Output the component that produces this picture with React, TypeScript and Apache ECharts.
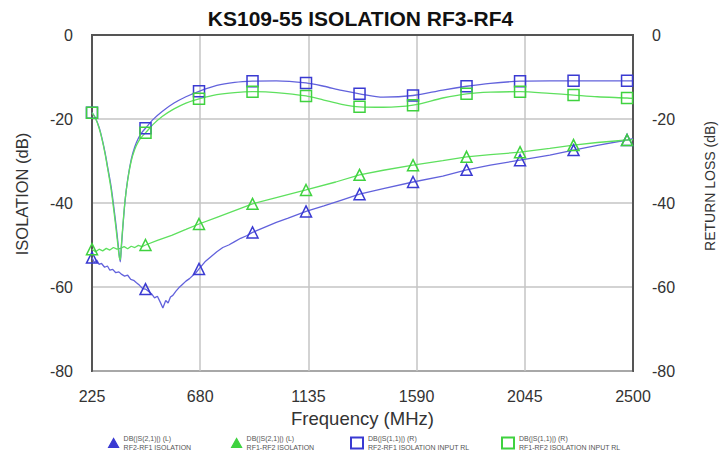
import React, { useEffect, useRef } from "react";
import * as echarts from "echarts";

const xTicks = [225, 680, 1135, 1590, 2045, 2500];
const yTicks = [0, -20, -40, -60, -80];
const markerFreqs = [225, 450, 675, 900, 1125, 1350, 1575, 1800, 2025, 2250, 2475];

const isoBlueFreq = [225, 235, 245, 255, 265, 278, 290, 300, 312, 325, 338, 350, 362, 375, 388, 400, 412, 425, 438, 450, 462, 475, 488, 500, 512, 523, 535, 545, 555, 565, 578, 590, 605, 620, 635, 650, 662, 675, 700, 725, 750, 775, 800, 825, 850, 875, 900, 950, 1000, 1050, 1125, 1200, 1275, 1350, 1450, 1575, 1700, 1800, 1900, 2025, 2150, 2250, 2350, 2475, 2500];
const isoBlueDb = [-53.0, -54.2, -53.6, -54.6, -54.4, -55.3, -55.0, -56.0, -55.8, -56.6, -56.4, -57.0, -57.4, -57.2, -58.2, -58.4, -59.0, -59.6, -60.4, -60.5, -61.0, -61.6, -62.6, -62.2, -63.6, -65.0, -63.2, -63.8, -62.4, -62.0, -61.0, -60.2, -59.4, -58.6, -58.0, -57.2, -56.6, -55.7, -54.0, -52.8, -51.6, -50.6, -50.0, -49.2, -48.4, -47.8, -47.0, -45.8, -44.6, -43.6, -42.0, -40.7, -39.3, -37.9, -36.6, -35.0, -33.6, -32.1, -31.0, -29.8, -28.6, -27.4, -26.3, -25.0, -24.7];

const isoGreenFreq = [225, 240, 255, 270, 285, 300, 315, 330, 345, 360, 375, 390, 405, 420, 435, 450, 500, 560, 620, 675, 750, 825, 900, 1000, 1125, 1250, 1350, 1450, 1575, 1700, 1800, 1900, 2025, 2150, 2250, 2350, 2475, 2500];
const isoGreenDb = [-51.0, -51.6, -51.0, -51.4, -50.8, -51.2, -50.6, -51.0, -50.8, -50.4, -50.9, -50.3, -50.6, -50.1, -50.4, -50.0, -48.9, -47.7, -46.3, -45.0, -43.4, -41.8, -40.2, -38.7, -36.9, -35.0, -33.3, -32.2, -31.0, -29.9, -29.0, -28.5, -27.9, -27.0, -26.2, -25.6, -25.0, -24.9];

const rlBlueFreq = [225, 240, 255, 267, 280, 292, 305, 315, 325, 333, 340, 344, 348, 355, 364, 375, 390, 405, 420, 435, 450, 480, 520, 570, 620, 675, 750, 825, 900, 1000, 1125, 1200, 1275, 1350, 1450, 1575, 1700, 1800, 1900, 2025, 2150, 2250, 2350, 2475, 2500];
const rlBlueDb = [-18.5, -19.8, -22.0, -24.6, -28.0, -31.8, -36.0, -40.2, -44.8, -48.8, -52.6, -54.0, -51.0, -45.6, -39.5, -34.4, -29.6, -26.6, -24.6, -23.2, -22.2, -20.2, -18.2, -16.2, -14.7, -13.4, -12.0, -11.3, -11.0, -10.9, -11.4, -12.2, -13.2, -14.0, -14.8, -14.4, -13.1, -12.2, -11.5, -11.0, -10.9, -10.9, -10.9, -10.9, -10.9];

const rlGreenFreq = [225, 240, 255, 267, 280, 292, 305, 315, 325, 333, 340, 344, 348, 355, 364, 375, 390, 405, 420, 435, 450, 480, 520, 570, 620, 675, 750, 825, 900, 1000, 1125, 1200, 1275, 1350, 1450, 1575, 1700, 1800, 1900, 2025, 2150, 2250, 2350, 2475, 2500];
const rlGreenDb = [-18.5, -19.9, -22.2, -24.8, -28.3, -32.2, -36.6, -41.0, -45.6, -49.6, -53.0, -53.5, -50.4, -45.2, -39.4, -34.6, -30.0, -27.2, -25.4, -24.2, -23.3, -21.4, -19.4, -17.6, -16.2, -15.2, -14.2, -13.7, -13.5, -13.7, -14.5, -15.5, -16.5, -17.1, -17.2, -16.7, -15.0, -14.0, -13.6, -13.5, -13.9, -14.3, -14.7, -15.0, -15.1];

const seriesNames = [
  "RF2-RF1 ISOLATION",
  "RF1-RF2 ISOLATION",
  "RF2-RF1 ISOLATION INPUT RL",
  "RF1-RF2 ISOLATION INPUT RL",
];
const legendHeads = ["DB(|S(2,1)|) (L)", "DB(|S(2,1)|) (L)", "DB(|S(1,1)|) (R)", "DB(|S(1,1)|) (R)"];

const BLUE_LINE = "#6262dc";
const BLUE_MARK = "#3a3ad2";
const GREEN_LINE = "#5ee05e";
const GREEN_MARK = "#3fd23f";
const FONT = "Liberation Sans, Arial, sans-serif";

function buildData(freqs: number[], vals: number[]) {
  return freqs.map((f, i) =>
    markerFreqs.includes(f) ? { value: [f, vals[i]] } : { value: [f, vals[i]], symbol: "none" }
  );
}

export default function App() {
  const ref = useRef<HTMLDivElement>(null);
  useEffect(() => {
    if (!ref.current) return;
    const chart = echarts.init(ref.current, undefined, { renderer: "svg" });
    const mkSeries = (
      name: string,
      freqs: number[],
      vals: number[],
      lineColor: string,
      markColor: string,
      symbol: string,
      yAxisIndex: number,
      smooth: boolean | number
    ) => ({
      name,
      type: "line",
      yAxisIndex,
      data: buildData(freqs, vals),
      symbol,
      symbolSize: 11,
      showAllSymbol: true,
      smooth,
      lineStyle: { color: lineColor, width: 1.3 },
      itemStyle: { color: "rgba(255,255,255,0)", borderColor: markColor, borderWidth: 1.5 },
      emphasis: { disabled: true },
      z: yAxisIndex === 1 ? 3 : 2,
    });

    const legendLefts = [108, 231, 350, 501];
    const legendIcons = ["triangle", "triangle", "emptyRect", "emptyRect"];
    const legendColors = [BLUE_MARK, GREEN_MARK, BLUE_MARK, GREEN_MARK];
    const legendSizes = [10, 10, 12, 12];

    const yAxisCommon = {
      type: "value",
      min: yTicks[yTicks.length - 1],
      max: yTicks[0],
      interval: yTicks[0] - yTicks[1],
      axisLabel: { fontFamily: FONT, fontSize: 16, color: "#333", margin: 19 },
      axisTick: { show: false },
      axisLine: { show: true, lineStyle: { color: "#555", width: 2 } },
    };

    chart.setOption({
      animation: false,
      backgroundColor: "#fff",
      title: {
        text: "KS109-55 ISOLATION RF3-RF4",
        left: "center",
        top: 3,
        textStyle: { fontFamily: FONT, fontSize: 21, fontWeight: "bold", color: "#111" },
      },
      grid: {
        left: 92,
        right: 88,
        top: 35,
        bottom: 84,
        show: true,
        borderColor: "#555",
        borderWidth: 2,
        backgroundColor: "rgba(0,0,0,0)",
      },
      graphic: [
        {
          type: "text",
          x: 22,
          y: 194,
          rotation: Math.PI / 2,
          style: {
            text: "ISOLATION (dB)",
            font: "16.5px " + FONT,
            fill: "#333",
            textAlign: "center",
            textVerticalAlign: "middle",
          },
        },
        {
          type: "text",
          x: 710,
          y: 186,
          rotation: Math.PI / 2,
          style: {
            text: "RETURN LOSS (dB)",
            font: "14px " + FONT,
            fill: "#333",
            textAlign: "center",
            textVerticalAlign: "middle",
          },
        },
      ],
      legend: seriesNames.map((n, i) => ({
        data: [n],
        left: legendLefts[i],
        top: 434,
        icon: legendIcons[i],
        itemWidth: legendSizes[i],
        itemHeight: legendSizes[i] - 1,
        itemGap: 3,
        selectedMode: false,
        padding: 0,
        itemStyle: { color: legendColors[i], borderColor: legendColors[i], borderWidth: 1.2 },
        lineStyle: { width: 0 },
        formatter: (name: string) => legendHeads[seriesNames.indexOf(name)] + "\n" + name,
        textStyle: { fontFamily: FONT, fontSize: 7, color: "#555", lineHeight: 9, padding: [0, 0, 0, 0] },
      })),
      xAxis: {
        type: "value",
        min: xTicks[0],
        max: xTicks[xTicks.length - 1],
        interval: xTicks[1] - xTicks[0],
        name: "Frequency (MHz)",
        nameLocation: "middle",
        nameGap: 38,
        nameTextStyle: { fontFamily: FONT, fontSize: 18.5, color: "#333" },
        axisLabel: {
          fontFamily: FONT,
          fontSize: 16,
          color: "#333",
          margin: 17,
          formatter: (v: number) => String(v),
        },
        axisTick: { show: false },
        axisLine: { show: true, lineStyle: { color: "#555", width: 2 } },
        splitLine: { show: true, lineStyle: { color: "#c4c4c4", width: 1.5 } },
      },
      yAxis: [
        {
          ...yAxisCommon,
          position: "left",
          splitLine: { show: true, lineStyle: { color: "#c4c4c4", width: 1.5 } },
        },
        {
          ...yAxisCommon,
          position: "right",
          splitLine: { show: false },
        },
      ],
      series: [
        mkSeries(seriesNames[0], isoBlueFreq, isoBlueDb, BLUE_LINE, BLUE_MARK, "triangle", 0, false),
        mkSeries(seriesNames[1], isoGreenFreq, isoGreenDb, GREEN_LINE, GREEN_MARK, "triangle", 0, false),
        mkSeries(seriesNames[2], rlBlueFreq, rlBlueDb, BLUE_LINE, BLUE_MARK, "rect", 1, 0.3),
        mkSeries(seriesNames[3], rlGreenFreq, rlGreenDb, GREEN_LINE, GREEN_MARK, "rect", 1, 0.3),
      ],
    });
    return () => chart.dispose();
  }, []);
  return <div ref={ref} style={{ width: 721, height: 455, position: "absolute", left: 0, top: 0 }} />;
}
